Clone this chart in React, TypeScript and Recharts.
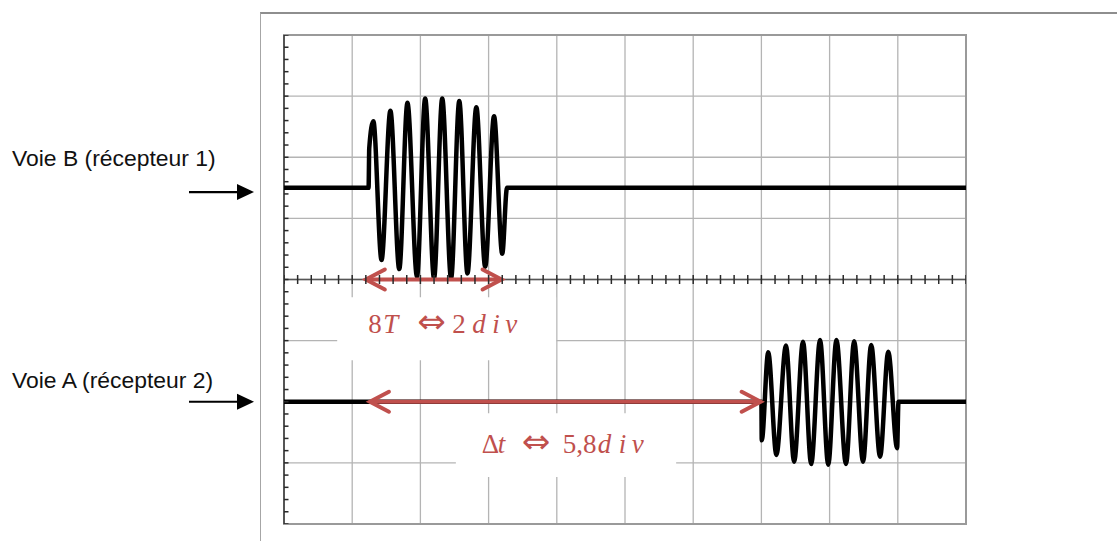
import {
  CartesianGrid,
  ComposedChart,
  Line,
  ReferenceArea,
  ReferenceDot,
  ReferenceLine,
  Scatter,
  XAxis,
  YAxis,
} from 'recharts';

// screen graduation (divisions)
const X_DIVS = [0, 1, 2, 3, 4, 5, 6, 7, 8, 9, 10];
const Y_DIVS = [-4, -3, -2, -1, 0, 1, 2, 3, 4];
const SUBDIV = 5;

// Voie B (récepteur 1): time in div, level in div
const voieBTimes = [
  0, 1.24, 1.25, 1.31, 1.43, 1.56, 1.69, 1.81, 1.95, 2.07, 2.2, 2.32, 2.45,
  2.57, 2.69, 2.82, 2.95, 3.08, 3.2, 3.27, 10,
];
const voieBValues = [
  1.5, 1.5, 2.15, 2.59, 0.32, 2.76, 0.17, 2.89, 0.05, 2.96, 0.02, 2.96, 0.02,
  2.92, 0.1, 2.82, 0.21, 2.67, 0.42, 1.5, 1.5,
];

// Voie A (récepteur 2)
const voieATimes = [
  0, 7.0, 7.005, 7.1, 7.22, 7.36, 7.48, 7.61, 7.73, 7.86, 7.98, 8.1, 8.24,
  8.36, 8.49, 8.61, 8.74, 8.86, 8.99, 9.01, 10,
];
const voieAValues = [
  -2, -2, -2.63, -1.19, -2.87, -1.08, -2.98, -1.02, -3.02, -0.99, -3.03,
  -0.99, -3.02, -1.01, -2.98, -1.07, -2.9, -1.18, -2.76, -2, -2,
];

// measurement arrows [x1, x2, y]
const periodArrow = [1.2, 3.19, 0];
const delayArrow = [1.26, 6.99, -2];

// white label boxes [x1, x2, y1, y2]
const periodBox = [0.78, 3.99, -1.32, -0.29];
const delayBox = [2.52, 5.75, -3.23, -2.19];

const laneNames = ['Voie B (récepteur 1)', 'Voie A (récepteur 2)'];
const laneLabelY = [1.86, -1.78];
const laneArrowY = [1.43, -2.0];

const RED = '#c0504d';
const MATH_FONT = "'Liberation Serif', 'DejaVu Serif', serif";

const toPoints = (xs: number[], ys: number[]) =>
  xs.map((x, i) => ({ x, y: ys[i] }));

const minorX = X_DIVS.slice(0, -1)
  .flatMap((d) => Array.from({ length: SUBDIV }, (_, k) => d + k / SUBDIV))
  .concat(X_DIVS[X_DIVS.length - 1])
  .map((x) => ({ x, y: 0 }));
const minorY = Y_DIVS.slice(0, -1)
  .flatMap((d) => Array.from({ length: SUBDIV }, (_, k) => d + k / SUBDIV))
  .concat(Y_DIVS[Y_DIVS.length - 1])
  .map((y) => ({ x: 0, y }));

const HTick = (p: any) => (
  <line
    x1={p.cx - 4.5}
    x2={p.cx + 4.5}
    y1={p.cy}
    y2={p.cy}
    stroke="#2a2a2a"
    strokeWidth={1.5}
  />
);
const VTick = (p: any) => (
  <line
    x1={p.cx}
    x2={p.cx}
    y1={p.cy - 4.5}
    y2={p.cy + 4.5}
    stroke="#2a2a2a"
    strokeWidth={1.5}
  />
);

function DoubleArrow(p: any) {
  const { x1, y1, x2, y2 } = p;
  const a = 19;
  const b = 10;
  return (
    <g stroke={RED} strokeWidth={4} strokeLinecap="round" fill="none">
      <line x1={x1 + 2} y1={y1} x2={x2 - 2} y2={y2} />
      <polyline points={`${x1 + a},${y1 - b} ${x1},${y1} ${x1 + a},${y1 + b}`} />
      <polyline points={`${x2 - a},${y2 - b} ${x2},${y2} ${x2 - a},${y2 + b}`} />
    </g>
  );
}

type Piece = { t: string; dx: number; it?: boolean; sym?: boolean };
const periodPieces: Piece[] = [
  { t: '8', dx: 0 },
  { t: 'T', dx: 15, it: true },
  { t: '⇔', dx: 49, sym: true },
  { t: '2', dx: 84 },
  { t: 'd', dx: 104, it: true },
  { t: 'i', dx: 124, it: true },
  { t: 'v', dx: 137, it: true },
];
const delayPieces: Piece[] = [
  { t: 'Δ', dx: 0 },
  { t: 't', dx: 16, it: true },
  { t: '⇔', dx: 40, sym: true },
  { t: '5,8', dx: 81 },
  { t: 'd', dx: 116, it: true },
  { t: 'i', dx: 137, it: true },
  { t: 'v', dx: 150, it: true },
];

const mathLabel = (pieces: Piece[]) => (p: any) => (
  <text y={p.cy} fill={RED} fontFamily={MATH_FONT} fontSize={27}>
    {pieces.map((pc, i) => (
      <tspan
        key={i}
        x={p.cx + pc.dx}
        fontStyle={pc.it ? 'italic' : 'normal'}
        fontFamily={pc.sym ? "'DejaVu Sans', sans-serif" : undefined}
        fontSize={pc.sym ? 34 : undefined}
      >
        {pc.t}
      </tspan>
    ))}
  </text>
);

const laneLabel = (name: string) => (p: any) => (
  <text
    x={p.cx - 272}
    y={p.cy}
    fill="#111"
    fontFamily="'Liberation Sans', Arial, sans-serif"
    fontSize={22.9}
  >
    {name}
  </text>
);

const laneArrow = (p: any) => (
  <g>
    <line x1={p.cx - 95} y1={p.cy} x2={p.cx - 44} y2={p.cy} stroke="#000" strokeWidth={2.2} />
    <polygon
      points={`${p.cx - 47},${p.cy - 8} ${p.cx - 30},${p.cy} ${p.cx - 47},${p.cy + 8}`}
      fill="#000"
    />
  </g>
);

export default function App() {
  const voieB = toPoints(voieBTimes, voieBValues);
  const voieA = toPoints(voieATimes, voieAValues);

  return (
    <div
      style={{
        position: 'absolute',
        left: 0,
        top: 0,
        width: 1117,
        height: 541,
        background: '#fff',
        overflow: 'hidden',
      }}
    >
      <div
        style={{
          position: 'absolute',
          left: 260,
          top: 12,
          width: 870,
          height: 560,
          borderTop: '2px solid #8e8e8e',
          borderLeft: '1px solid #a6a6a6',
        }}
      />
      <div style={{ position: 'absolute', left: 0, top: 0 }}>
        <ComposedChart
          width={1117}
          height={541}
          margin={{ top: 35, right: 151, bottom: 17, left: 284 }}
        >
          <XAxis dataKey="x" type="number" domain={[0, 10]} hide allowDataOverflow />
          <YAxis dataKey="y" type="number" domain={[-4, 4]} hide allowDataOverflow />
          <CartesianGrid
            stroke="#b4b4b4"
            strokeWidth={1.3}
            verticalValues={X_DIVS}
            horizontalValues={Y_DIVS}
          />
          <ReferenceArea
            x1={periodBox[0]}
            x2={periodBox[1]}
            y1={periodBox[2]}
            y2={periodBox[3]}
            fill="#fff"
            fillOpacity={1}
            stroke="none"
          />
          <ReferenceArea
            x1={delayBox[0]}
            x2={delayBox[1]}
            y1={delayBox[2]}
            y2={delayBox[3]}
            fill="#fff"
            fillOpacity={1}
            stroke="none"
          />
          <ReferenceArea
            x1={0}
            x2={10}
            y1={-4}
            y2={4}
            fill="none"
            stroke="#9a9a9a"
            strokeWidth={2}
          />
          <ReferenceLine x={0} stroke="#555" strokeWidth={2} />
          <ReferenceLine y={0} stroke="#555" strokeWidth={1.5} />
          <Scatter data={minorY} shape={HTick} isAnimationActive={false} />
          <Scatter data={minorX} shape={VTick} isAnimationActive={false} />
          <Line
            data={voieB}
            dataKey="y"
            type="monotone"
            stroke="#000"
            strokeWidth={4.5}
            dot={false}
            activeDot={false}
            isAnimationActive={false}
          />
          <Line
            data={voieA}
            dataKey="y"
            type="monotone"
            stroke="#000"
            strokeWidth={4.5}
            dot={false}
            activeDot={false}
            isAnimationActive={false}
          />
          <ReferenceLine
            segment={[
              { x: periodArrow[0], y: periodArrow[2] },
              { x: periodArrow[1], y: periodArrow[2] },
            ]}
            shape={DoubleArrow}
          />
          <ReferenceLine
            segment={[
              { x: delayArrow[0], y: delayArrow[2] },
              { x: delayArrow[1], y: delayArrow[2] },
            ]}
            shape={DoubleArrow}
          />
          <ReferenceDot x={1.235} y={-0.88} ifOverflow="visible" shape={mathLabel(periodPieces)} />
          <ReferenceDot x={2.9} y={-2.84} ifOverflow="visible" shape={mathLabel(delayPieces)} />
          {laneNames.map((name, i) => (
            <ReferenceDot
              key={name}
              x={0}
              y={laneLabelY[i]}
              ifOverflow="visible"
              shape={laneLabel(name)}
            />
          ))}
          {laneArrowY.map((y) => (
            <ReferenceDot key={y} x={0} y={y} ifOverflow="visible" shape={laneArrow} />
          ))}
        </ComposedChart>
      </div>
    </div>
  );
}
